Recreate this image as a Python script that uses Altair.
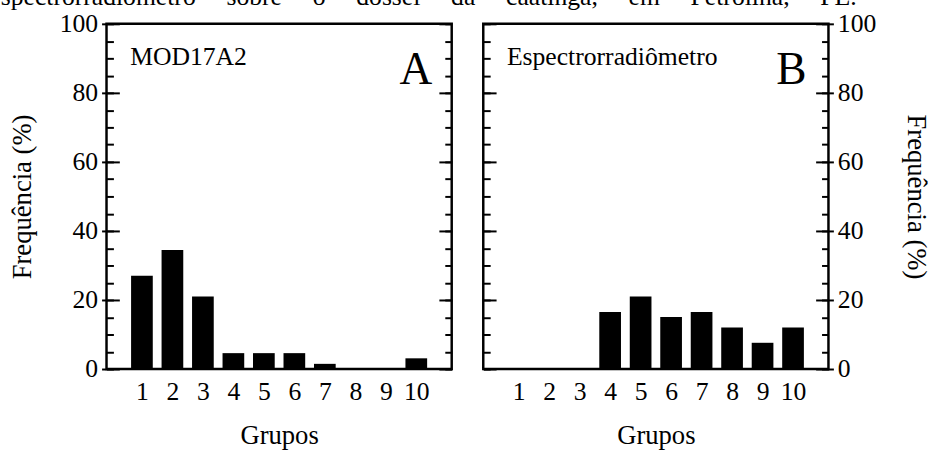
import altair as alt
import pandas as pd

FONT = "Liberation Serif"

caption_words = ["spectrorradiômetro", "sobre", "o", "dossel", "da", "caatinga,", "em", "Petrolina,", "PE."]
grupos = [1, 2, 3, 4, 5, 6, 7, 8, 9, 10]
freq_mod17a2 = [27.0, 34.5, 21.0, 4.6, 4.6, 4.6, 1.5, 0.0, 0.0, 3.1]
freq_espectro = [0.0, 0.0, 0.0, 16.5, 21.0, 15.1, 16.5, 12.0, 7.6, 12.0]
major_ticks = [0, 20, 40, 60, 80, 100]
minor_ticks = [0, 5, 10, 15, 20, 25, 30, 35, 40, 45, 50, 55, 60, 65, 70, 75, 80, 85, 90, 95, 100]
y_title = "Frequência (%)"
x_title = "Grupos"

# justified caption line: widen the gaps between words
caption = "\u2003\u2009".join(caption_words)


def panel(values, label, letter, side):
    df = pd.DataFrame({"Grupos": grupos, "Freq": values, "label": label, "letter": letter})
    base = alt.Chart(df)
    yscale = alt.Scale(domain=[0, 100], nice=False, zero=True)
    xscale = alt.Scale(domain=[0, 11], nice=False, zero=False)
    other = "right" if side == "left" else "left"
    xhidden = alt.X("Grupos:Q", scale=xscale, axis=None)

    bars = base.mark_bar(color="black", size=22).encode(
        x=alt.X("Grupos:Q", scale=xscale,
                axis=alt.Axis(values=grupos, ticks=False, domain=False, grid=False,
                              labelPadding=10, labelFlush=False, labelOverlap=False,
                              title=x_title, titlePadding=19)),
        y=alt.Y("Freq:Q", scale=yscale,
                axis=alt.Axis(orient=side, values=major_ticks, tickSize=5, tickWidth=2,
                              tickColor="black", domain=False, grid=False, labelPadding=4,
                              labelFlush=False, labelOverlap=False,
                              title=y_title, titleAngle=270 if side == "left" else 90,
                              titlePadding=23 if side == "left" else 26)),
    )

    def ticks(orient, size, vals):
        return base.mark_point(opacity=0).encode(
            x=xhidden,
            y=alt.Y("Freq:Q", scale=yscale,
                    axis=alt.Axis(orient=orient, values=vals, offset=-size, tickSize=size,
                                  tickWidth=2, tickColor="black", labels=False, domain=False,
                                  grid=False, title=None, minExtent=0, maxExtent=0))
        )

    lab = base.transform_filter("datum.Grupos == 1").mark_text(
        font=FONT, fontSize=26, align="left", baseline="alphabetic", color="black"
    ).encode(text="label:N", x=alt.value(24), y=alt.value(42))
    let = base.transform_filter("datum.Grupos == 1").mark_text(
        font=FONT, fontSize=46, align="left", baseline="alphabetic", color="black"
    ).encode(text="letter:N", x=alt.value(297), y=alt.value(61))

    return alt.layer(
        bars,
        ticks(side, 13, major_ticks),
        ticks(side, 7, minor_ticks),
        ticks(other, 13, major_ticks),
        ticks(other, 7, minor_ticks),
        lab,
        let,
    ).resolve_axis(x="independent", y="independent").properties(width=350, height=350)


a = panel(freq_mod17a2, "MOD17A2", "A", "left")
b = panel(freq_espectro, "Espectrorradiômetro", "B", "right")

chart = alt.hconcat(a, b, spacing=26).properties(
    title=alt.TitleParams(text=caption, anchor="start", fontSize=26, font=FONT,
                          fontWeight="normal", color="black", dx=-7, offset=0),
    padding={"left": 0, "top": -20, "right": 2, "bottom": 0},
    background="white",
).configure_view(stroke="black", strokeWidth=2.5).configure_axis(
    labelFont=FONT, titleFont=FONT, labelColor="black", titleColor="black",
    labelFontSize=26, titleFontSize=27, titleFontWeight="normal",
)

chart.save("out.html", embed_options={"renderer": "svg", "actions": False})
